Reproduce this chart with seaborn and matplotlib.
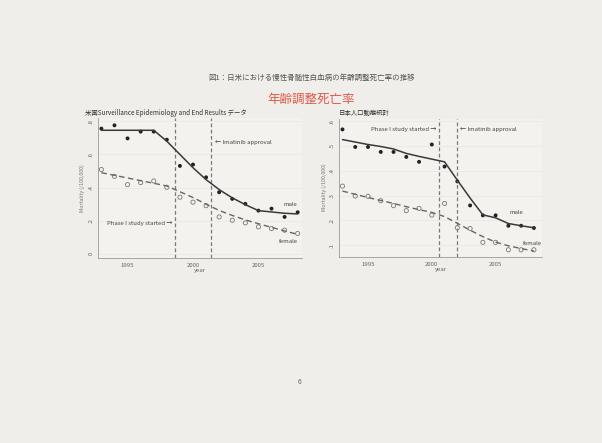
import numpy as np
import pandas as pd
import seaborn as sns
import matplotlib.pyplot as plt

sns.set_style("white")
plt.rcParams['font.family'] = ['Noto Sans CJK JP', 'DejaVu Sans']

years = list(range(1993, 2009))

# US SEER data
us_male = [0.756, 0.776, 0.697, 0.738, 0.738, 0.689, 0.531, 0.539,
           0.462, 0.372, 0.332, 0.302, 0.261, 0.273, 0.223, 0.251]
us_male_fit = [0.746, 0.746, 0.746, 0.746, 0.746, 0.680, 0.600, 0.520,
               0.448, 0.388, 0.338, 0.297, 0.261, 0.253, 0.245, 0.241]
us_female = [0.509, 0.468, 0.418, 0.430, 0.440, 0.402, 0.342, 0.312,
             0.291, 0.223, 0.203, 0.187, 0.163, 0.153, 0.143, 0.123]
us_female_fit = [0.490, 0.474, 0.458, 0.442, 0.426, 0.410, 0.375, 0.340,
                 0.300, 0.262, 0.232, 0.205, 0.182, 0.160, 0.138, 0.118]

# Japan vital statistics
jp_male = [0.567, 0.496, 0.496, 0.476, 0.476, 0.456, 0.436, 0.506,
           0.417, 0.357, 0.260, 0.220, 0.220, 0.178, 0.178, 0.169]
jp_male_fit = [0.526, 0.516, 0.506, 0.498, 0.488, 0.470, 0.458, 0.447,
               0.436, 0.362, 0.290, 0.222, 0.210, 0.187, 0.178, 0.170]
jp_female = [0.338, 0.298, 0.297, 0.279, 0.259, 0.239, 0.248, 0.221,
             0.268, 0.170, 0.167, 0.111, 0.111, 0.081, 0.081, 0.081]
jp_female_fit = [0.318, 0.305, 0.292, 0.280, 0.268, 0.255, 0.243, 0.232,
                 0.215, 0.188, 0.160, 0.134, 0.112, 0.097, 0.086, 0.076]

us_events = [1998.6, 2001.4]
jp_events = [2000.6, 2002.0]

paper = "#efeeea"
ink = "#3a3a3a"
grey = "#7a7a7a"

fig = plt.figure(figsize=(6.02, 4.43), dpi=100, facecolor=paper)

fig.text(0.517, 0.823, "図1：日米における慢性骨髄性白血病の年齢調整死亡率の推移",
         ha="center", va="center", fontsize=5.4, color="#555555")
fig.text(0.517, 0.776, "年齢調整死亡率", ha="center", va="center",
         fontsize=9, color="#e0584a")
fig.text(0.498, 0.138, "6", ha="center", va="center", fontsize=5, color="#666666")


def panel(rect, male, male_fit, female, female_fit, events, ylim, xlim, yticks,
          title, title_x):
    ax = fig.add_axes(rect)
    ax.set_facecolor("#f3f2ef")
    df = pd.DataFrame({"year": years, "male": male, "male_fit": male_fit,
                       "female": female, "female_fit": female_fit})
    for ev in events:
        ax.axvline(ev, color=grey, lw=0.9, ls=(0, (3, 2)))
    sns.lineplot(data=df, x="year", y="male_fit", ax=ax, color=ink, lw=1.1)
    sns.lineplot(data=df, x="year", y="female_fit", ax=ax, color="#666666",
                 lw=1.0, dashes=False, linestyle=(0, (4, 2.5)))
    sns.scatterplot(data=df, x="year", y="male", ax=ax, color="#222222",
                    s=8, edgecolor="none")
    sns.scatterplot(data=df, x="year", y="female", ax=ax, facecolor="none",
                    edgecolor="#777777", s=9, linewidth=0.6)
    ax.set_xlim(*xlim)
    ax.set_ylim(*ylim)
    ax.set_xticks([1995, 2000, 2005])
    ax.set_yticks(yticks)
    ax.set_yticklabels([("%.1f" % t).lstrip("0") if t > 0 else "0" for t in yticks],
                       rotation=90, va="center")
    ax.tick_params(axis="both", labelsize=4.3, colors="#666666", length=2,
                   width=0.5, pad=1.5)
    ax.grid(axis="y", color="#e8e7e3", lw=0.5)
    for s in ["top", "right"]:
        ax.spines[s].set_visible(False)
    for s in ["left", "bottom"]:
        ax.spines[s].set_color("#9a9a9a")
        ax.spines[s].set_linewidth(0.6)
    ax.set_xlabel("year", fontsize=4.3, color="#666666", labelpad=0)
    ax.set_ylabel("Mortality (/100,000)", fontsize=3.8, color="#777777", labelpad=2)
    fig.text(title_x, rect[1] + rect[3] + 0.012, title, fontsize=4.6,
             color="#333333", ha="left", va="center")
    return ax


ax1 = panel([0.163, 0.4176, 0.338, 0.316], us_male, us_male_fit, us_female,
            us_female_fit, us_events, (-0.025, 0.82), (1992.75, 2008.3),
            [0, 0.2, 0.4, 0.6, 0.8],
            "米国Surveillance Epidemiology and End Results データ", 0.141)
ax1.text(2001.65, 0.67, "← Imatinib approval", fontsize=4.3, color="#444444",
         va="center", ha="left")
ax1.text(1998.45, 0.183, "Phase I study started →", fontsize=4.3,
         color="#444444", va="center", ha="right")
ax1.text(2008.0, 0.30, "male", fontsize=4.3, color="#444444", ha="right", va="center")
ax1.text(2008.0, 0.075, "female", fontsize=4.3, color="#444444", ha="right", va="center")

ax2 = panel([0.5636, 0.4205, 0.336, 0.312], jp_male, jp_male_fit, jp_female,
            jp_female_fit, jp_events, (0.053, 0.611), (1992.75, 2008.6),
            [0.1, 0.2, 0.3, 0.4, 0.5, 0.6], "日本人口動態統計", 0.563)
ax2.text(2000.35, 0.566, "Phase I study started →", fontsize=4.3,
         color="#444444", va="center", ha="right")
ax2.text(2002.2, 0.566, "← Imatinib approval", fontsize=4.3, color="#444444",
         va="center", ha="left")
ax2.text(2007.2, 0.233, "male", fontsize=4.3, color="#444444", ha="right", va="center")
ax2.text(2008.6, 0.107, "female", fontsize=4.3, color="#444444", ha="right", va="center")

fig.savefig("out.png", dpi=100, facecolor=paper)
